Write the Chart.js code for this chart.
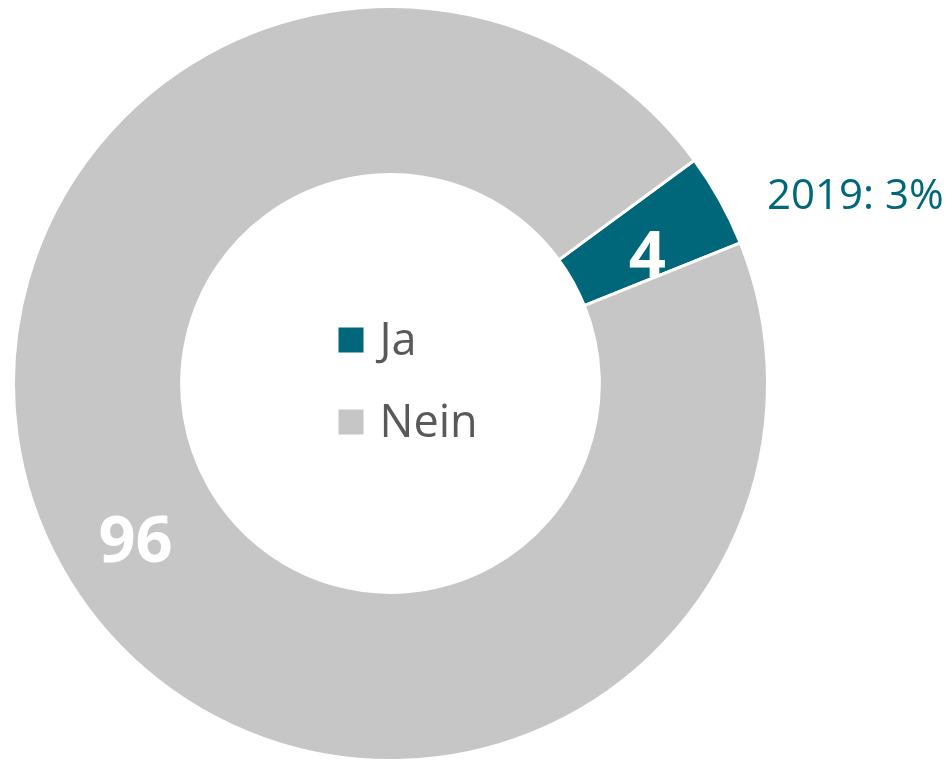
<!DOCTYPE html>
<html>
<head>
<meta charset="utf-8">
<script src="https://cdn.jsdelivr.net/npm/chart.js@4.4.1/dist/chart.umd.min.js"></script>
<style>
    html, body {
        margin: 0;
        padding: 0;
        background: #ffffff;
    }
    .chart-box {
        position: relative;
        width: 951px;
        height: 762px;
    }
</style>
</head>
<body>
<div class="chart-box">
    <canvas id="pieChart"></canvas>
</div>
<script>
// Chart data
const categories = ['Ja', 'Nein'];
const values = [4, 96];
const sliceColors = ['#00677a', '#c6c6c6'];
const note = '2019: 3%';

const FONT = '"Open Sans", "Noto Sans", sans-serif';

// Draws the slice values, the legend in the hole and the 2019 note
const labelPlugin = {
    id: 'labelPlugin',
    afterDraw(chart) {
        const ctx = chart.ctx;
        const meta = chart.getDatasetMeta(0);

        ctx.save();
        ctx.fillStyle = '#ffffff';
        ctx.font = 'bold 65px ' + FONT;
        ctx.textAlign = 'center';
        ctx.textBaseline = 'alphabetic';
        meta.data.forEach((arc, i) => {
            const pos = arc.tooltipPosition();
            // digits sit a bit below the arc centre, like the original
            ctx.fillText(String(values[i]), pos.x + 1, pos.y + 36);
        });

        // legend in the centre
        const cx = meta.data[0].x;
        const cy = meta.data[0].y;
        ctx.font = '45px ' + FONT;
        ctx.textAlign = 'left';
        categories.forEach((name, i) => {
            const baseY = cy - 29 + i * 82;
            ctx.fillStyle = sliceColors[i];
            ctx.fillRect(cx - 52, baseY - 27, 25, 25);
            ctx.fillStyle = '#595959';
            ctx.fillText(name, cx - 11, baseY);
        });

        // note beside the Ja slice
        ctx.fillStyle = '#00677a';
        ctx.font = '42px ' + FONT;
        ctx.fillText(note, 767, 209);
        ctx.restore();
    }
};

const ctx = document.getElementById('pieChart').getContext('2d');
const chart = new Chart(ctx, {
    type: 'doughnut',
    data: {
        labels: categories,
        datasets: [{
            data: values,
            backgroundColor: sliceColors,
            borderColor: '#ffffff',
            borderWidth: 3
        }]
    },
    options: {
        responsive: true,
        maintainAspectRatio: false,
        animation: false,
        rotation: 53.7,
        cutout: '55.4%',
        layout: {
            padding: { left: 11, right: 181, top: 5, bottom: 0 }
        },
        plugins: {
            legend: { display: false },
            tooltip: { enabled: false }
        }
    },
    plugins: [labelPlugin]
});
</script>
</body>
</html>
